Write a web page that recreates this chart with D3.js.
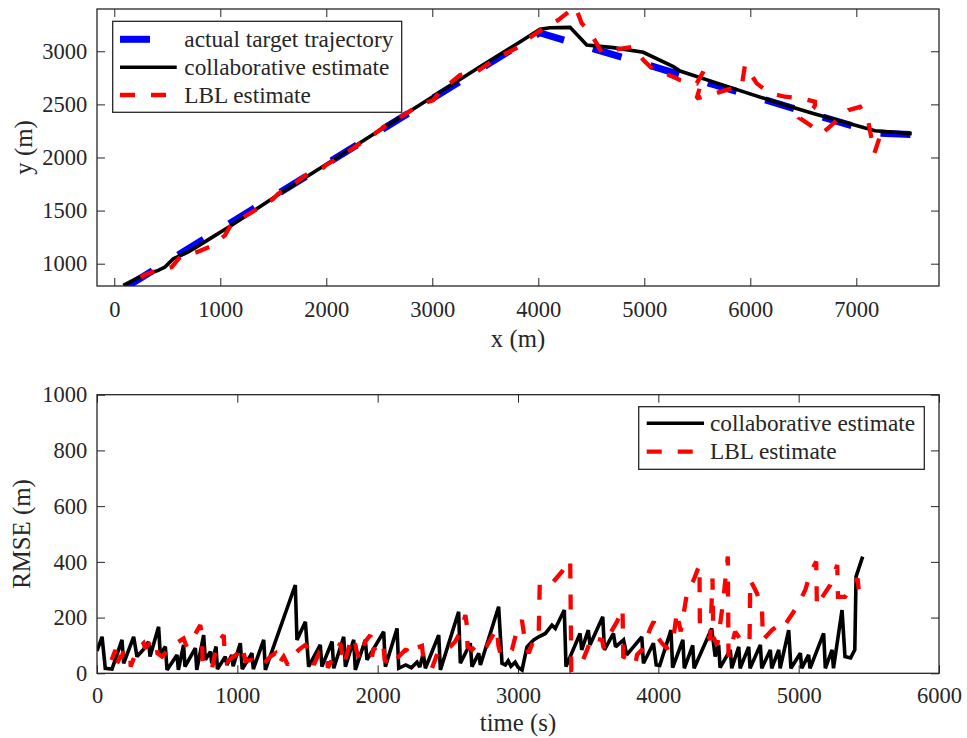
<!DOCTYPE html>
<html>
<head>
<meta charset="utf-8">
<script src="https://cdn.jsdelivr.net/npm/d3@7"></script>
<style>
  html, body { margin: 0; padding: 0; background: #fff; }
  svg { display: block; }
  text { font-family: "Liberation Serif", "Times New Roman", serif; fill: #262626; }
</style>
</head>
<body>
<svg id="chart" width="967" height="738"></svg>
<script>
// ---- data: target track in the plane (x, y in metres) ----
const trackActual = [[120,785],[4010,3175],[7190,2230],[7535,2215],[7470,2105]];

const trackCollab = [[85,795],[250,880],[415,937],[478,968],[557,1047],[698,1110],[777,1157],[903,1236],
  [1107,1361],[1563,1660],[2035,1958],[2500,2255],[3000,2570],[3450,2855],[3800,3070],[4016,3207],
  [4110,3222],[4300,3225],[4457,3059],[4708,3034],[4990,2990],[5274,2855],[5337,2814],[5808,2660],
  [6280,2509],[6594,2415],[7176,2251],[7523,2225]];

const trackLBL = [[250,870],[274,890],[400,937],[480,945],[541,968],[620,1062],[700,1090],[777,1109],
  [903,1160],[930,1175],[1044,1267],[1107,1377],[1249,1456],[1406,1550],[1500,1610],[1547,1660],
  [1658,1723],[1846,1864],[1972,1905],[2000,1930],[2129,2006],[2271,2100],[2412,2194],[2570,2305],
  [2680,2368],[2853,2477],[2950,2520],[3009,2540],[3070,2620],[3261,2776],[3419,2808],[3600,2930],
  [3850,3060],[3906,3120],[4016,3194],[4189,3295],[4350,3420],[4409,3264],[4504,3154],[4598,2987],
  [4740,3019],[4896,3043],[4991,2918],[5060,2850],[5132,2823],[5195,2792],[5337,2729],[5400,2713],
  [5494,2698],[5557,2808],[5530,2680],[5494,2557],[5620,2588],[5792,2641],[5918,2666],[5950,2871],
  [6060,2698],[6186,2604],[6327,2572],[6485,2557],[6610,2525],[6610,2490],[6594,2462],[6469,2368],
  [6563,2305],[6673,2226],[6740,2280],[6799,2336],[6925,2446],[7035,2477],[7113,2336],[7170,2040],
  [7220,2190]];

// ---- data: position error over time (t in s, RMSE in m) ----
const rmseCollab = [[0,80],[36,131],[59,18],[107,15],[178,120],[190,36],[261,131],[285,60],[330,85],
  [368,113],[378,60],[439,167],[451,66],[487,96],[499,12],[570,66],[580,12],[617,102],[627,24],
  [701,90],[711,12],[760,137],[772,48],[808,78],[818,36],[848,96],[858,15],[914,60],[926,30],
  [960,66],[970,25],[1021,108],[1035,15],[1104,72],[1114,15],[1188,120],[1200,12],[1413,317],
  [1425,120],[1485,185],[1508,24],[1591,102],[1603,24],[1675,114],[1687,18],[1758,131],[1770,24],
  [1829,120],[1841,12],[1912,120],[1924,48],[2043,149],[2055,24],[2138,161],[2150,18],[2200,30],
  [2240,20],[2280,40],[2300,22],[2325,72],[2340,18],[2435,137],[2447,12],[2577,221],[2589,36],
  [2625,72],[2660,108],[2672,24],[2720,72],[2732,30],[2862,239],[2886,36],[2910,30],[2930,45],
  [2950,25],[2980,40],[3000,22],[3029,12],[3064,95],[3112,120],[3148,131],[3195,143],[3242,173],
  [3266,161],[3330,227],[3342,24],[3442,143],[3454,84],[3501,155],[3513,102],[3604,203],[3616,84],
  [3680,143],[3695,95],[3752,120],[3775,66],[3882,131],[3894,36],[3965,108],[3985,30],[4010,28],
  [4090,155],[4102,20],[4175,120],[4185,18],[4245,100],[4255,18],[4380,161],[4405,60],[4430,102],
  [4440,20],[4513,84],[4523,18],[4573,95],[4583,18],[4644,95],[4654,18],[4727,102],[4737,18],
  [4798,84],[4808,18],[4858,84],[4868,18],[4929,155],[4945,18],[5012,72],[5022,18],[5071,66],
  [5081,18],[5178,143],[5190,18],[5238,84],[5248,18],[5309,227],[5330,60],[5370,55],[5400,84],
  [5409,347],[5456,419]];

const rmseLBL = [[104,48],[131,84],[133,24],[166,60],[178,60],[190,84],[237,72],[240,24],[285,84],
  [332,108],[344,90],[380,113],[404,120],[427,108],[430,72],[463,60],[490,75],[546,102],[617,125],
  [640,95],[689,131],[736,173],[748,137],[752,48],[756,22],[820,18],[855,108],[903,137],[910,70],
  [926,40],[960,55],[1000,70],[1021,100],[1040,80],[1060,45],[1105,48],[1176,24],[1200,40],
  [1235,60],[1271,72],[1290,30],[1330,60],[1360,30],[1390,60],[1437,84],[1485,102],[1532,72],
  [1545,30],[1580,70],[1610,50],[1639,60],[1645,20],[1710,84],[1734,108],[1760,30],[1805,114],
  [1829,131],[1850,80],[1870,50],[1912,114],[1948,137],[1960,60],[1971,90],[2007,72],[2040,100],
  [2050,48],[2102,24],[2150,60],[2197,84],[2209,83],[2245,65],[2268,90],[2316,98],[2328,41],
  [2387,18],[2435,84],[2518,96],[2553,114],[2601,161],[2625,209],[2637,167],[2640,96],[2672,84],
  [2696,96],[2743,120],[2780,100],[2815,132],[2850,161],[2860,100],[2874,72],[2921,60],[2957,84],
  [2993,155],[3028,191],[3040,150],[3052,108],[3076,72],[3112,120],[3147,126],[3155,323],
  [3242,323],[3313,365],[3372,407],[3380,12],[3444,24],[3492,84],[3527,132],[3539,126],[3599,120],
  [3610,90],[3658,144],[3706,186],[3745,233],[3750,60],[3777,54],[3836,30],[3848,66],[3884,84],
  [3943,161],[3967,186],[3991,132],[4026,108],[4060,90],[4100,100],[4133,221],[4145,186],
  [4160,150],[4204,287],[4252,335],[4293,389],[4296,170],[4323,161],[4370,120],[4386,340],
  [4392,130],[4420,100],[4460,250],[4495,419],[4500,60],[4547,149],[4604,108],[4650,113],
  [4655,335],[4703,287],[4739,227],[4745,120],[4810,155],[4870,179],[4893,167],[4988,239],
  [5047,299],[5083,359],[5125,401],[5130,240],[5154,263],[5225,317],[5275,389],[5280,274],
  [5330,274],[5420,340],[5430,290]];

// ---- axis ticks and labels ----
const xTicksTop = [0, 1000, 2000, 3000, 4000, 5000, 6000, 7000];
const yTicksTop = [1000, 1500, 2000, 2500, 3000];
const xTicksBot = [0, 1000, 2000, 3000, 4000, 5000, 6000];
const yTicksBot = [0, 200, 400, 600, 800, 1000];
const seriesNames = ["actual target trajectory", "collaborative estimate", "LBL estimate"];

// ---- styles ----
const axisColor = "#262626";
const tickFont = 22.5, labelFont = 24.75, legendFont = 23.3;
const styleActual = { color: "#0000ff", width: 7, dash: "30,30" };
const styleCollab = { color: "#000000", width: 3.6, dash: null };
const styleLBL    = { color: "#ff0000", width: 4.3, dash: "15,16" };

const svg = d3.select("#chart");

function drawPanel(cfg) {
  const { x, y, xTicks, yTicks, id, xPadding } = cfg;
  const [x0, x1] = x.range();
  const [y0, y1] = y.range(); // y0 bottom, y1 top
  const g = svg.append("g");

  g.append("clipPath").attr("id", id).append("rect")
    .attr("x", x0).attr("y", y1).attr("width", x1 - x0).attr("height", y0 - y1);

  const axes = g.append("g");
  const styleAxis = sel => {
    sel.select(".domain").remove();
    sel.selectAll(".tick line").attr("stroke", axisColor).attr("stroke-width", 1);
    sel.selectAll(".tick text").attr("fill", axisColor)
      .style("font-family", '"Liberation Serif", serif').style("font-size", tickFont + "px");
  };
  axes.append("g").attr("transform", `translate(0,${y0})`)
    .call(d3.axisBottom(x).tickValues(xTicks).tickFormat(d3.format("d")).tickSizeInner(-8).tickSizeOuter(0).tickPadding(xPadding))
    .call(styleAxis);
  axes.append("g").attr("transform", `translate(0,${y1})`)
    .call(d3.axisTop(x).tickValues(xTicks).tickFormat("").tickSizeInner(-8).tickSizeOuter(0))
    .call(styleAxis);
  axes.append("g").attr("transform", `translate(${x0},0)`)
    .call(d3.axisLeft(y).tickValues(yTicks).tickFormat(d3.format("d")).tickSizeInner(-8).tickSizeOuter(0).tickPadding(9.7))
    .call(styleAxis);
  axes.append("g").attr("transform", `translate(${x1},0)`)
    .call(d3.axisRight(y).tickValues(yTicks).tickFormat("").tickSizeInner(-8).tickSizeOuter(0))
    .call(styleAxis);

  const plot = g.append("g").attr("clip-path", `url(#${id})`);
  const line = d3.line().x(d => x(d[0])).y(d => y(d[1]));
  cfg.series.forEach(s => {
    plot.append("path").datum(s.data)
      .attr("d", line)
      .attr("fill", "none")
      .attr("stroke", s.style.color)
      .attr("stroke-width", s.style.width)
      .attr("stroke-dasharray", s.style.dash)
      .attr("stroke-linejoin", "miter")
      .attr("stroke-miterlimit", 2);
  });

  g.append("rect").attr("x", x0).attr("y", y1).attr("width", x1 - x0).attr("height", y0 - y1)
    .attr("fill", "none").attr("stroke", axisColor).attr("stroke-width", 1.3);
  return g;
}

function drawLegend(box, entries) {
  const g = svg.append("g");
  g.append("rect").attr("x", box.x).attr("y", box.y).attr("width", box.w).attr("height", box.h)
    .attr("fill", "#fff").attr("stroke", axisColor).attr("stroke-width", 1.3);
  entries.forEach((e, i) => {
    const cy = box.rows[i];
    g.append("line").attr("x1", box.lx0).attr("x2", box.lx1).attr("y1", cy).attr("y2", cy)
      .attr("stroke", e.style.color).attr("stroke-width", e.style.width)
      .attr("stroke-dasharray", e.style.dash);
    g.append("text").attr("x", box.tx).attr("y", cy).attr("dy", "0.33em")
      .style("font-size", legendFont + "px").attr("fill", "#000").text(e.name);
  });
}

// ---- top panel: trajectory in the plane ----
const xTop = d3.scaleLinear().domain([-163, 7780]).range([97, 939]);
const yTop = d3.scaleLinear().domain([790, 3398]).range([286, 9]);
drawPanel({
  id: "clipTop", x: xTop, y: yTop, xTicks: xTicksTop, yTicks: yTicksTop, xPadding: 15,
  series: [
    { data: trackActual, style: styleActual },
    { data: trackCollab, style: styleCollab },
    { data: trackLBL, style: styleLBL }
  ]
});
svg.append("text").attr("x", 518).attr("y", 347).attr("text-anchor", "middle")
  .style("font-size", labelFont + "px").text("x (m)");
svg.append("text").attr("transform", "translate(32,147.5) rotate(-90)").attr("text-anchor", "middle")
  .style("font-size", labelFont + "px").text("y (m)");
drawLegend({ x: 112.7, y: 21.3, w: 289, h: 91, lx0: 120, lx1: 176.7, tx: 184.3, rows: [39.3, 67.3, 95] }, [
  { name: seriesNames[0], style: styleActual },
  { name: seriesNames[1], style: styleCollab },
  { name: seriesNames[2], style: styleLBL }
]);

// ---- bottom panel: RMSE over time ----
const xBot = d3.scaleLinear().domain([0, 6000]).range([97, 939]);
const yBot = d3.scaleLinear().domain([0, 1000]).range([673.3, 394.7]);
drawPanel({
  id: "clipBot", x: xBot, y: yBot, xTicks: xTicksBot, yTicks: yTicksBot, xPadding: 14,
  series: [
    { data: rmseCollab, style: styleCollab },
    { data: rmseLBL, style: styleLBL }
  ]
});
svg.append("text").attr("x", 518).attr("y", 731).attr("text-anchor", "middle")
  .style("font-size", labelFont + "px").text("time (s)");
svg.append("text").attr("transform", "translate(30,534) rotate(-90)").attr("text-anchor", "middle")
  .style("font-size", labelFont + "px").text("RMSE (m)");
drawLegend({ x: 638.7, y: 406.7, w: 285.6, h: 62.6, lx0: 646.7, lx1: 704, tx: 710, rows: [423.3, 451.7] }, [
  { name: seriesNames[1], style: styleCollab },
  { name: seriesNames[2], style: styleLBL }
]);
</script>
</body>
</html>
